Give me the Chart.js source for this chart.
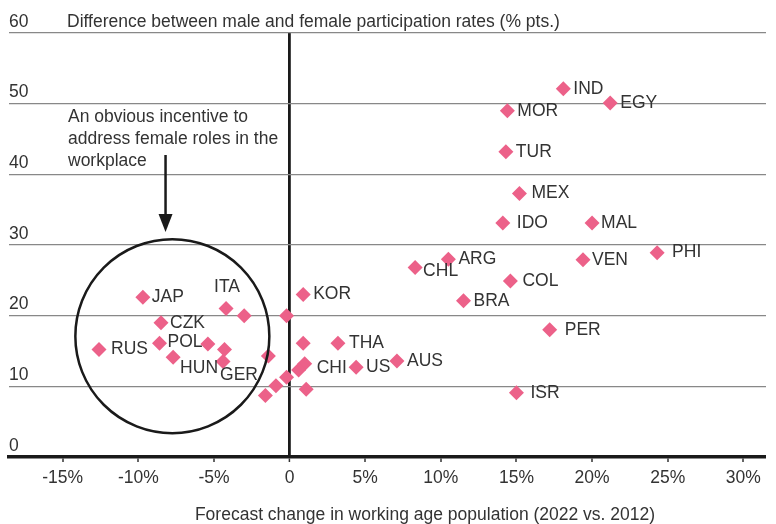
<!DOCTYPE html>
<html>
<head>
<meta charset="utf-8">
<script src="https://cdn.jsdelivr.net/npm/chart.js@4"></script>
<style>
  html, body { margin: 0; padding: 0; background: #fff; }
  #wrap { width: 776px; height: 524px; }
</style>
</head>
<body>
<div id="wrap"><canvas id="scatterChart"></canvas></div>
<script>
// Data
const countries = ['IND', 'EGY', 'MOR', 'TUR', 'MEX', 'IDO', 'MAL', 'PHI', 'VEN', 'ARG',
                   'CHL', 'COL', 'BRA', 'PER', 'ISR', 'JAP', 'ITA', '', 'CZK', 'POL',
                   'RUS', 'HUN', '', '', 'GER', '', 'KOR', '', '', 'THA',
                   'CHI', '', '', '', '', '', 'US', 'AUS'];
// forecast change in working age population, % (x)
const popChange = [18.1, 21.2, 14.4, 14.3, 15.2, 14.1, 20.0, 24.3, 19.4, 10.5,
                   8.3, 14.6, 11.5, 17.2, 15.0, -9.7, -4.2, -3.0, -8.5, -8.6,
                   -12.6, -7.7, -5.4, -4.3, -4.4, -1.4, 0.9, -0.2, 0.9, 3.2,
                   1.0, 0.6, -0.2, -0.9, -1.6, 1.1, 4.4, 7.1];
// difference between male and female participation rates, % pts (y)
const rateGap = [52.1, 50.1, 49.0, 43.2, 37.3, 33.1, 33.1, 28.9, 27.9, 28.0,
                 26.8, 24.9, 22.1, 18.0, 9.1, 22.6, 21.0, 20.0, 19.0, 16.1,
                 15.2, 14.1, 16.0, 15.2, 13.5, 14.3, 23.0, 20.0, 16.1, 16.1,
                 13.2, 12.3, 11.3, 10.1, 8.7, 9.6, 12.7, 13.6];
const xTickValues = [-15, -10, -5, 0, 5, 10, 15, 20, 25, 30];
const yTickValues = [0, 10, 20, 30, 40, 50, 60];

const yTitle = 'Difference between male and female participation rates (% pts.)';
const xTitle = 'Forecast change in working age population (2022 vs. 2012)';
const noteLines = ['An obvious incentive to', 'address female roles in the', 'workplace'];

// label placement tweaks (px from the marker), default is to the right
const labelOffsets = {
  MEX: [12, 0], IDO: [14, 0], MAL: [9, 0], PHI: [15, -1], VEN: [9, 0],
  CHL: [8, 4], COL: [12, 0], PER: [15, 0], ISR: [14, 0], JAP: [9, 0],
  ITA: [-12, -21], RUS: [12, 0], HUN: [7, 11], GER: [-3, 14], CHI: [12, 4],
  THA: [11, 0], POL: [8, -1], CZK: [9, 0]
};

const textColor = '#333';
const pink = '#EC6189';
const font = "'Liberation Sans', Arial, sans-serif";

let points = popChange.map(function(x, i) { return { x: x, y: rateGap[i] }; });

const extras = {
  id: 'extras',
  afterDatasetsDraw(chart) {
    const ctx = chart.ctx;
    const area = chart.chartArea;
    const xs = chart.scales.x, ys = chart.scales.y;
    ctx.save();
    ctx.fillStyle = textColor;
    ctx.textBaseline = 'middle';
    ctx.textAlign = 'left';

    // point labels
    ctx.font = '17.5px ' + font;
    const meta = chart.getDatasetMeta(0);
    meta.data.forEach(function(el, i) {
      const name = countries[i];
      if (!name) return;
      const off = labelOffsets[name] || [10, 0];
      ctx.fillText(name, el.x + off[0], el.y + off[1]);
    });

    // title sitting on the 60 line
    ctx.fillText(yTitle, area.left + 58, area.top - 11);

    // note text
    noteLines.forEach(function(line, i) {
      ctx.fillText(line, area.left + 59, 117 + i * 22);
    });

    // x axis title
    ctx.textAlign = 'center';
    ctx.fillText(xTitle, 425, 515);
    ctx.textAlign = 'left';

    // arrow
    const ax = xs.getPixelForValue(-8.2);
    ctx.strokeStyle = '#1a1a1a';
    ctx.fillStyle = '#1a1a1a';
    ctx.lineWidth = 2.5;
    ctx.beginPath();
    ctx.moveTo(ax, 155);
    ctx.lineTo(ax, 220);
    ctx.stroke();
    ctx.beginPath();
    ctx.moveTo(ax - 7, 214);
    ctx.lineTo(ax + 7, 214);
    ctx.lineTo(ax, 232);
    ctx.closePath();
    ctx.fill();

    // circle round the shrinking economies
    ctx.beginPath();
    ctx.arc(xs.getPixelForValue(-7.75), ys.getPixelForValue(17.1), 97, 0, Math.PI * 2);
    ctx.stroke();
    ctx.restore();
  }
};

new Chart(document.getElementById('scatterChart'), {
  type: 'scatter',
  data: {
    datasets: [{
      data: points,
      pointStyle: 'rectRot',
      pointRadius: 7.5,
      pointHoverRadius: 7.5,
      backgroundColor: pink,
      borderColor: pink,
      borderWidth: 0
    }]
  },
  options: {
    responsive: true,
    maintainAspectRatio: false,
    animation: false,
    layout: { padding: { left: 9, right: 10, top: 33, bottom: 29 } },
    plugins: { legend: { display: false }, tooltip: { enabled: false } },
    scales: {
      x: {
        type: 'linear',
        min: -18.55,
        max: 31.5,
        afterBuildTicks: function(axis) {
          axis.ticks = xTickValues.map(function(v) { return { value: v }; });
        },
        afterFit: function(axis) { axis.paddingLeft = 0; axis.paddingRight = 0; },
        ticks: {
          color: textColor,
          font: { family: font, size: 17.5 },
          padding: 6,
          callback: function(v) { return v === 0 ? '0' : v + '%'; }
        },
        grid: {
          drawTicks: true,
          tickLength: 5,
          tickColor: '#333',
          tickWidth: 1.5,
          color: function(c) { return c.tick && c.tick.value === 0 ? '#1a1a1a' : 'rgba(0,0,0,0)'; },
          lineWidth: function(c) { return c.tick && c.tick.value === 0 ? 2.8 : 0; }
        },
        border: { display: true, color: '#1a1a1a', width: 3.5 }
      },
      y: {
        min: 0,
        max: 60,
        afterBuildTicks: function(axis) {
          axis.ticks = yTickValues.map(function(v) { return { value: v }; });
        },
        afterFit: function(axis) { axis.paddingTop = 0; axis.paddingBottom = 0; },
        ticks: {
          mirror: true,
          padding: 0,
          labelOffset: -11,
          color: textColor,
          font: { family: font, size: 17.5 }
        },
        grid: { drawTicks: false, color: '#888', lineWidth: 1.2 },
        border: { display: false }
      }
    }
  },
  plugins: [extras]
});
</script>
</body>
</html>
